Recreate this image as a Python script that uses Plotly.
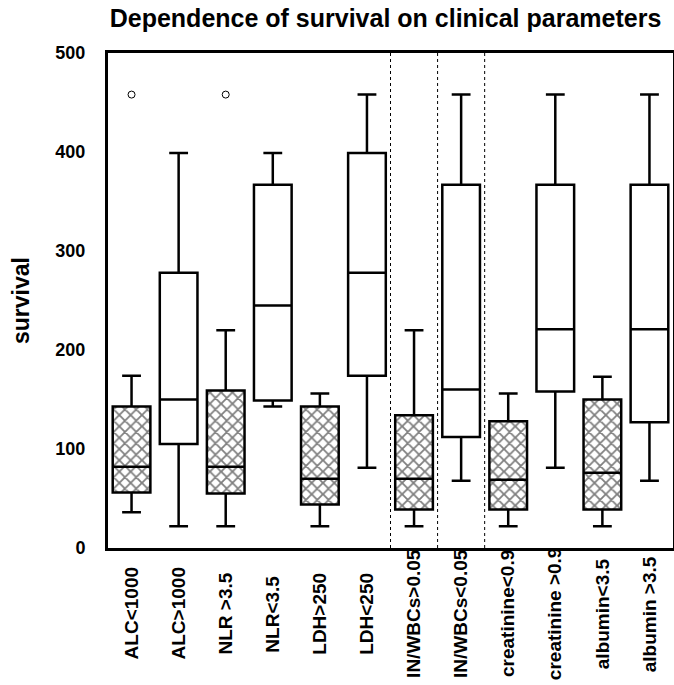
import plotly.graph_objects as go

categories = ["ALC<1000", "ALC>1000", "NLR >3.5", "NLR<3.5", "LDH>250", "LDH<250",
              "IN/WBCs>0.05", "IN/WBCs<0.05", "creatinine<0.9", "creatinine >0.9",
              "albumin<3.5", "albumin >3.5"]
lower = [36, 22, 22, 143, 22, 81, 22, 68, 22, 81, 22, 68]
q1 = [56, 105, 55, 149, 44, 174, 39, 112, 39, 158, 39, 127]
median = [82, 150, 82, 245, 70, 278, 70, 160, 69, 221, 76, 221]
q3 = [143, 278, 159, 367, 143, 399, 134, 367, 128, 367, 150, 367]
upper = [174, 399, 220, 399, 156, 458, 220, 458, 156, 458, 173, 458]
hatched = [True, False, True, False, True, False, True, False, True, False, True, False]

outlier_cats = ["ALC<1000", "NLR >3.5"]
outlier_vals = [458, 458]

font = "Liberation Sans, Arial, sans-serif"

fig = go.Figure()

# cross-hatched fill for the "low" groups, drawn as bars spanning q1..q3
hx = [c for c, h in zip(categories, hatched) if h]
hbase = [a for a, h in zip(q1, hatched) if h]
hlen = [b - a for a, b, h in zip(q1, q3, hatched) if h]
fig.add_trace(go.Bar(
    x=hx, y=hlen, base=hbase, width=0.8,
    marker=dict(color="white", line=dict(width=0),
                pattern=dict(shape="x", fgcolor="black", bgcolor="white",
                             size=8, solidity=0.4)),
    showlegend=False, hoverinfo="skip",
))

fig.add_trace(go.Box(
    x=categories, q1=q1, median=median, q3=q3,
    lowerfence=lower, upperfence=upper,
    width=0.8, whiskerwidth=0.5,
    line=dict(color="black", width=2.5),
    fillcolor="rgba(0,0,0,0)",
    boxpoints=False, showlegend=False,
))

fig.add_trace(go.Scatter(
    x=outlier_cats, y=outlier_vals, mode="markers",
    marker=dict(symbol="circle-open", size=7, color="black", line=dict(width=1)),
    showlegend=False,
))

for xv in [5.5, 6.5, 7.5]:
    fig.add_shape(type="line", xref="x", yref="y", x0=xv, x1=xv, y0=0, y1=500,
                  line=dict(color="black", width=1, dash="dot"))

# category labels, rotated and centred below the axis
for c in categories:
    fig.add_annotation(
        x=c, xref="x", y=-0.133, yref="paper",
        text="<b>%s</b>" % c.replace("<", "&lt;"),
        textangle=-90, showarrow=False,
        xanchor="center", yanchor="middle",
        font=dict(size=19, family=font, color="black"),
    )

fig.update_layout(
    width=674, height=685,
    margin=dict(l=108, r=1, t=53, b=137, autoexpand=False),
    paper_bgcolor="white", plot_bgcolor="white",
    font=dict(family=font, color="black"),
    barmode="overlay",
    title=dict(text="<b>Dependence of survival on clinical parameters</b>",
               x=0.572, xanchor="center", y=0.974, yanchor="middle",
               font=dict(size=25, color="black")),
)

fig.update_xaxes(
    type="category", categoryorder="array", categoryarray=categories,
    range=[-0.5, 11.5], showticklabels=False,
    showline=True, linecolor="black", linewidth=3, mirror=True,
    showgrid=False, ticks="",
)

fig.update_yaxes(
    range=[0, 500], tickvals=[0, 100, 200, 300, 400, 500],
    ticktext=["<b>%d</b>" % v for v in [0, 100, 200, 300, 400, 500]],
    tickfont=dict(size=18, family=font),
    showline=True, linecolor="black", linewidth=3, mirror=True,
    showgrid=False, zeroline=False, ticks="", ticklabelstandoff=16,
    title=dict(text="<b>survival</b>", font=dict(size=23), standoff=20),
)

fig.write_html("out.html", config={"displayModeBar": False},
               post_script="document.body.style.margin='0';")
